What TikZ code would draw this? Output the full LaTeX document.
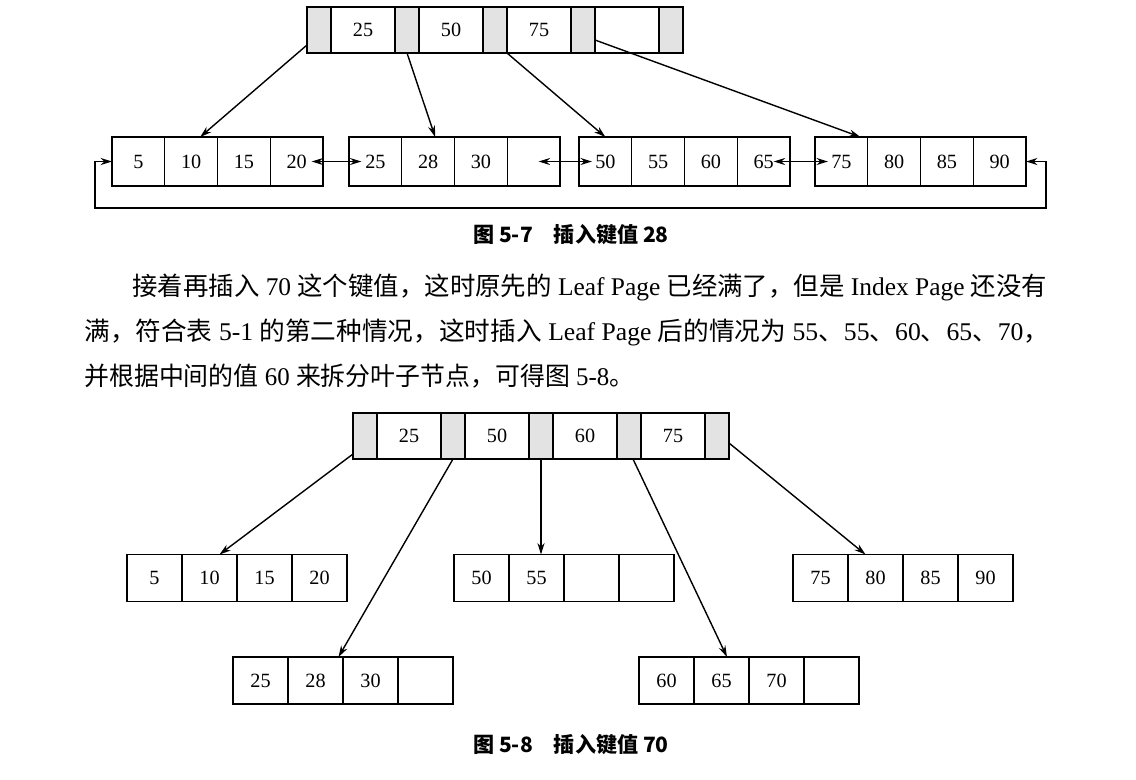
\documentclass[tikz,border=0pt]{standalone}
\usepackage{fontspec}
\setmainfont{Liberation Serif}
\newfontfamily\cjk{Noto Sans CJK SC}
\usepackage{graphicx}
\usetikzlibrary{arrows.meta, positioning, calc}

\newcommand{\zh}[1]{{\cjk #1}}
\newcommand{\fitline}[2]{\resizebox{#1}{\height}{#2}}

\begin{document}
\begin{tikzpicture}[
    x=0.02cm, y=-0.02cm,
    >={Stealth[length=6.5pt, width=4pt]},
    cell/.style={draw, line width=0.8pt, minimum width=1.055cm, minimum height=0.98cm,
                 inner sep=0pt, outer sep=0pt, font=\fontsize{11.5}{13}\selectfont},
    leaf/.style={cell, minimum width=1.1cm, minimum height=0.94cm},
    slot/.style={cell, minimum width=1.28cm, minimum height=0.92cm},
    gap/.style={slot, fill=gray!22, minimum width=0.48cm},
    ptr/.style={->, line width=0.8pt},
    figcap/.style={font=\cjk\bfseries\fontsize{12}{14}\selectfont},
    para/.style={anchor=west, inner sep=0pt, font=\fontsize{14.5}{17}\selectfont}
  ]
  \useasboundingbox (0,0) rectangle (1136,779);

  % figure 5-7: index page
  \foreach \v [count=\i] in {25,50,75,{}} {
    \node[gap] (ga\i) at ({319+88*(\i-1)},30) {};
    \node[slot] (sa\i) at ({363+88*(\i-1)},30) {\v};
  }
  \node[gap] (ga5) at (671,30) {};

  % figure 5-7: leaf pages
  \foreach \v [count=\i] in {5,10,15,20}
    \node[cell] (la\i) at ({138.4+52.75*(\i-1)},161.5) {\v};
  \foreach \v [count=\i] in {25,28,30,{}}
    \node[cell] (lb\i) at ({375.4+52.75*(\i-1)},161.5) {\v};
  \foreach \v [count=\i] in {50,55,60,65}
    \node[cell] (lc\i) at ({605.4+52.75*(\i-1)},161.5) {\v};
  \foreach \v [count=\i] in {75,80,85,90}
    \node[cell] (ld\i) at ({841.4+52.75*(\i-1)},161.5) {\v};

  \draw[ptr] ([yshift=-0.3cm]ga1.west) -- ([xshift=0.18cm]la2.north);
  \draw[ptr] (ga2.south) -- ([xshift=0.14cm]lb2.north);
  \draw[ptr] (ga3.south east) -- (lc1.north);
  \draw[ptr] ([yshift=-0.2cm]ga4.east) -- ([xshift=0.38cm]ld1.north);

  \draw[ptr, <->] ([xshift=0.3cm]la4.center) -- ([xshift=-0.28cm]lb1.center);
  \draw[ptr, <->] ([xshift=0.1cm]lb4.center) -- ([xshift=-0.27cm]lc1.center);
  \draw[ptr, <->] ([xshift=0.2cm]lc4.center) -- ([xshift=-0.27cm]ld1.center);

  \coordinate (loopl) at (95,208);
  \coordinate (loopr) at (1046,208);
  \draw[ptr, <->] (la1.west) -| (loopl) -- (loopr) |- (ld4.east);

  \node[figcap] (cap57) at (571,235) {图 5-7\quad 插入键值 28};

  % text between the figures
  \node[para] (line1) at (132,287) {\fitline{18.3cm}{\zh{接着再插入} 70 \zh{这个键值，这时原先的} Leaf Page \zh{已经满了，但是} Index Page \zh{还没有}}};
  \node[para] (line2) at (84,332) {\fitline{19.3cm}{\zh{满，符合表} 5-1 \zh{的第二种情况，这时插入} Leaf Page \zh{后的情况为} 55\zh{、}55\zh{、}60\zh{、}65\zh{、}70\zh{，}}};
  \node[para] (line3) at (84,376) {\fitline{11.0cm}{\zh{并根据中间的值} 60 \zh{来拆分叶子节点，可得图} 5-8\zh{。}}};

  % figure 5-8: index page
  \foreach \v [count=\i] in {25,50,60,75} {
    \node[gap] (gb\i) at ({365+88*(\i-1)},436) {};
    \node[slot] (sb\i) at ({409+88*(\i-1)},436) {\v};
  }
  \node[gap] (gb5) at (717,436) {};

  % figure 5-8: leaf pages
  \foreach \v [count=\i] in {5,10,15,20}
    \node[leaf] (pa\i) at ({154.5+55*(\i-1)},578) {\v};
  \foreach \v [count=\i] in {50,55,{},{}}
    \node[leaf] (pb\i) at ({481.5+55*(\i-1)},578) {\v};
  \foreach \v [count=\i] in {75,80,85,90}
    \node[leaf] (pc\i) at ({820.5+55*(\i-1)},578) {\v};
  \foreach \v [count=\i] in {25,28,30,{}}
    \node[leaf] (pd\i) at ({260.5+55*(\i-1)},680.5) {\v};
  \foreach \v [count=\i] in {60,65,70,{}}
    \node[leaf] (pe\i) at ({666.5+55*(\i-1)},680.5) {\v};

  \draw[ptr] ([yshift=-0.36cm]gb1.west) -- ([xshift=0.2cm]pa2.north);
  \draw[ptr] (gb2.south) -- ([xshift=0.46cm]pd2.north);
  \draw[ptr] (gb3.south) -- (gb3.south |- pb2.north);
  \draw[ptr] ([xshift=0.08cm]gb4.south) -- ([xshift=0.11cm]pe2.north);
  \draw[ptr] ([yshift=-0.14cm]gb5.east) -- ([xshift=-0.2cm]pc2.north);

  \node[figcap] (cap58) at (571,745) {图 5-8\quad 插入键值 70};
\end{tikzpicture}
\end{document}
